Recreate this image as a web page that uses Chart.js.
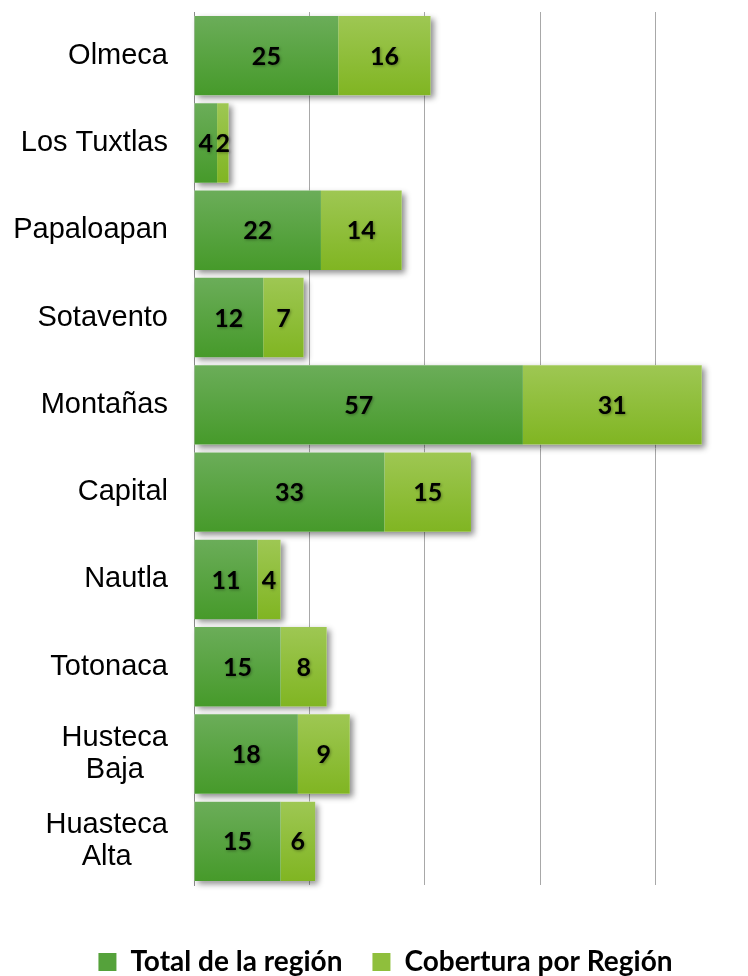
<!DOCTYPE html>
<html lang="es">
<head>
    <meta charset="UTF-8">
    <title>Regiones</title>
    <style>
        html, body {
            margin: 0;
            padding: 0;
            background: #ffffff;
        }
        .wrap {
            width: 748px;
            height: 976px;
            overflow: hidden;
        }
    </style>
</head>
<body>
    <div class="wrap">
        <canvas id="regionesChart" width="780" height="976"></canvas>
    </div>
    <script src="https://cdn.jsdelivr.net/npm/chart.js"></script>
    <script>
        // Datos
        const regiones = ['Olmeca', 'Los Tuxtlas', 'Papaloapan', 'Sotavento', 'Montañas', 'Capital',
            'Nautla', 'Totonaca', ['Husteca', 'Baja'], ['Huasteca', 'Alta']];
        const totalRegion = [25, 4, 22, 12, 57, 33, 11, 15, 18, 15];
        const coberturaRegion = [16, 2, 14, 7, 31, 15, 4, 8, 9, 6];
        const nombresSeries = ['Total de la región', 'Cobertura por Región'];

        const verdeOscuro = ['#6bad59', '#469a2a', '#55a23b'];
        const verdeClaro = ['#9ec753', '#80b522', '#8fbf3c'];
        const anchoBarra = 0.91;

        // Degradado vertical dentro de cada barra
        function degradado(colores) {
            return function(context) {
                const chart = context.chart;
                if (!chart.chartArea || context.dataIndex === undefined) return colores[2];
                const area = chart.chartArea;
                const alto = (area.bottom - area.top) / regiones.length * anchoBarra;
                const y = chart.scales.y.getPixelForValue(context.dataIndex);
                const g = chart.ctx.createLinearGradient(0, y - alto / 2, 0, y + alto / 2);
                g.addColorStop(0, colores[0]);
                g.addColorStop(1, colores[1]);
                return g;
            };
        }

        // Sombra detrás de cada barra apilada
        const sombraBarras = {
            id: 'sombraBarras',
            beforeDatasetsDraw(chart) {
                const ctx = chart.ctx;
                const m0 = chart.getDatasetMeta(0);
                const m1 = chart.getDatasetMeta(1);
                ctx.save();
                ctx.shadowColor = 'rgba(0,0,0,0.45)';
                ctx.shadowBlur = 6;
                ctx.shadowOffsetX = 3;
                ctx.shadowOffsetY = 3;
                ctx.fillStyle = '#ffffff';
                m1.data.forEach((el, i) => {
                    const base = m0.data[i].base;
                    ctx.fillRect(base, el.y - el.height / 2, el.x - base, el.height);
                });
                ctx.restore();
            }
        };

        // Etiquetas de valores dentro de las barras
        const etiquetasValores = {
            id: 'etiquetasValores',
            afterDatasetsDraw(chart) {
                const ctx = chart.ctx;
                ctx.save();
                ctx.font = 'bold 25px Lato, "Open Sans", sans-serif';
                ctx.fillStyle = '#000000';
                ctx.textAlign = 'center';
                ctx.textBaseline = 'middle';
                ctx.shadowColor = 'rgba(0,0,0,0.35)';
                ctx.shadowBlur = 3;
                ctx.shadowOffsetX = 1;
                ctx.shadowOffsetY = 1;
                chart.data.datasets.forEach((ds, d) => {
                    chart.getDatasetMeta(d).data.forEach((el, i) => {
                        const p = el.getCenterPoint();
                        ctx.fillText(String(ds.data[i]), p.x, p.y + 1);
                    });
                });
                ctx.restore();
            }
        };

        // Nombres de las regiones (bloque alineado a la derecha, líneas centradas)
        const nombresRegiones = {
            id: 'nombresRegiones',
            afterDraw(chart) {
                const ctx = chart.ctx;
                const yScale = chart.scales.y;
                const lh = 32;
                ctx.save();
                ctx.font = '29px "Liberation Sans", Arial, sans-serif';
                ctx.fillStyle = '#000000';
                ctx.textAlign = 'center';
                ctx.textBaseline = 'middle';
                regiones.forEach((lab, i) => {
                    const lineas = Array.isArray(lab) ? lab : [lab];
                    const ancho = Math.max(...lineas.map(l => ctx.measureText(l).width));
                    const cx = chart.chartArea.left - 26 - ancho / 2;
                    const y = yScale.getPixelForValue(i);
                    lineas.forEach((l, j) => {
                        ctx.fillText(l, cx, y + (j - (lineas.length - 1) / 2) * lh);
                    });
                });
                ctx.restore();
            }
        };

        const ctx = document.getElementById('regionesChart').getContext('2d');
        const regionesChart = new Chart(ctx, {
            type: 'bar',
            data: {
                labels: regiones,
                datasets: [{
                    label: nombresSeries[0],
                    data: totalRegion,
                    backgroundColor: degradado(verdeOscuro),
                    borderWidth: 0
                }, {
                    label: nombresSeries[1],
                    data: coberturaRegion,
                    backgroundColor: degradado(verdeClaro),
                    borderWidth: 0
                }]
            },
            options: {
                indexAxis: 'y',
                responsive: false,
                animation: false,
                datasets: {
                    bar: {
                        barPercentage: 1,
                        categoryPercentage: anchoBarra
                    }
                },
                layout: {
                    padding: { top: 12, right: 9, left: 0, bottom: -10 }
                },
                scales: {
                    x: {
                        stacked: true,
                        min: 0,
                        max: 100,
                        ticks: { display: false, stepSize: 20 },
                        grid: { color: '#a8a8a8', drawTicks: false },
                        border: { display: false },
                        afterFit(scale) { scale.height = 33; }
                    },
                    y: {
                        stacked: true,
                        ticks: { display: false },
                        grid: { display: false },
                        border: { color: '#8c8c8c', width: 1 },
                        afterFit(scale) { scale.width = 194; }
                    }
                },
                plugins: {
                    legend: {
                        position: 'bottom',
                        labels: {
                            boxWidth: 18,
                            boxHeight: 18,
                            padding: 30,
                            color: '#000000',
                            font: { family: 'Lato, "Open Sans", sans-serif', size: 28, weight: 'bold' },
                            generateLabels(chart) {
                                const items = Chart.defaults.plugins.legend.labels.generateLabels(chart);
                                items.forEach((it, i) => {
                                    it.fillStyle = i === 0 ? verdeOscuro[2] : verdeClaro[2];
                                    it.strokeStyle = 'rgba(0,0,0,0)';
                                    it.lineWidth = 0;
                                });
                                return items;
                            }
                        }
                    },
                    tooltip: { enabled: false }
                }
            },
            plugins: [sombraBarras, etiquetasValores, nombresRegiones]
        });
    </script>
</body>
</html>
